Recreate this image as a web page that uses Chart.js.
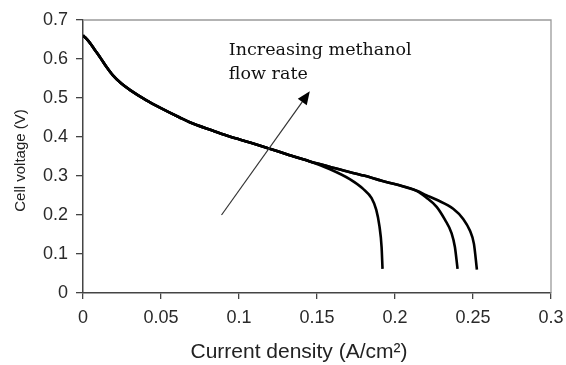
<!DOCTYPE html>
<html><head><meta charset="utf-8">
<script src="https://cdn.jsdelivr.net/npm/chart.js@4.4.1/dist/chart.umd.min.js"></script>
<style>html,body{margin:0;padding:0;background:#fff;}#wrap{width:566px;height:365px;position:relative;}</style>
</head><body><div id="wrap"><canvas id="c" width="566" height="365"></canvas></div>
<script>
// ---- Tick values / labels ----
const xTickValues = [0, 0.05, 0.1, 0.15, 0.2, 0.25, 0.3];
const xTickLabels = ['0', '0.05', '0.1', '0.15', '0.2', '0.25', '0.3'];
const yTickValues = [0, 0.1, 0.2, 0.3, 0.4, 0.5, 0.6, 0.7];
const yTickLabels = ['0', '0.1', '0.2', '0.3', '0.4', '0.5', '0.6', '0.7'];
const xTitle = 'Current density (A/cm²)';
const yTitle = 'Cell voltage (V)';
const annotationLines = ['Increasing methanol', 'flow rate'];
const arrowFrom = [0.0888, 0.200];
const arrowTo = [0.1454, 0.517];
const annotationAnchor = [0.0935, 0.609];

// ---- Polarisation curves (current density A/cm2, cell voltage V) ----
// part common to all three flow rates
const sharedCurrent = [0, 0.002, 0.0043, 0.0075, 0.0107, 0.015, 0.0192, 0.0246, 0.030, 0.0407, 0.049, 0.062, 0.0684, 0.0834, 0.094, 0.107, 0.1197, 0.132, 0.145];
const sharedVoltage = [0.660, 0.653, 0.642, 0.624, 0.606, 0.580, 0.558, 0.537, 0.521, 0.494, 0.476, 0.450, 0.438, 0.416, 0.401, 0.386, 0.370, 0.354, 0.338];
// lowest flow rate
const lowCurrent = [0.158, 0.171, 0.1796, 0.185, 0.188, 0.190, 0.1914, 0.192];
const lowVoltage = [0.318, 0.292, 0.267, 0.243, 0.213, 0.172, 0.118, 0.062];
// common to the two higher flow rates
const upperCurrent = [0.158, 0.167, 0.180, 0.192, 0.201, 0.2139];
const upperVoltage = [0.324, 0.314, 0.301, 0.287, 0.278, 0.262];
// middle flow rate
const midCurrent = [0.220, 0.2267, 0.232, 0.2363, 0.2384, 0.2401];
const midVoltage = [0.245, 0.221, 0.188, 0.153, 0.118, 0.062];
// highest flow rate
const highCurrent = [0.220, 0.2267, 0.2373, 0.2437, 0.248, 0.2506, 0.2525];
const highVoltage = [0.251, 0.239, 0.216, 0.190, 0.160, 0.126, 0.060];

function pts(xs, ys) { return xs.map((x, i) => ({x: x, y: ys[i]})); }
const seriesLow = pts(sharedCurrent.concat(lowCurrent), sharedVoltage.concat(lowVoltage));
const seriesMid = pts(sharedCurrent.concat(upperCurrent, midCurrent), sharedVoltage.concat(upperVoltage, midVoltage));
const seriesHigh = pts(sharedCurrent.concat(upperCurrent, highCurrent), sharedVoltage.concat(upperVoltage, highVoltage));

const sans = '"Liberation Sans", Arial, sans-serif';

const decor = {
  id: 'decor',
  afterDraw(chart) {
    const {ctx, chartArea: a, scales: {x, y}} = chart;
    ctx.save();
    // top / right frame
    ctx.strokeStyle = '#9a9a9a';
    ctx.lineWidth = 1.3;
    ctx.beginPath();
    ctx.moveTo(a.left, a.top); ctx.lineTo(a.right, a.top); ctx.lineTo(a.right, a.bottom);
    ctx.stroke();
    // arrow
    const x0 = x.getPixelForValue(arrowFrom[0]), y0 = y.getPixelForValue(arrowFrom[1]);
    const x1 = x.getPixelForValue(arrowTo[0]), y1 = y.getPixelForValue(arrowTo[1]);
    const ang = Math.atan2(y1 - y0, x1 - x0);
    const hl = 13, hw = 5.5;
    const bx = x1 - hl * Math.cos(ang), by = y1 - hl * Math.sin(ang);
    ctx.strokeStyle = '#333';
    ctx.lineWidth = 1.2;
    ctx.beginPath(); ctx.moveTo(x0, y0); ctx.lineTo(bx, by); ctx.stroke();
    ctx.fillStyle = '#000';
    ctx.beginPath();
    ctx.moveTo(x1, y1);
    ctx.lineTo(bx + hw * Math.sin(ang), by - hw * Math.cos(ang));
    ctx.lineTo(bx - hw * Math.sin(ang), by + hw * Math.cos(ang));
    ctx.closePath(); ctx.fill();
    // annotation text
    ctx.fillStyle = '#111';
    ctx.font = '17.5px "DejaVu Serif", serif';
    ctx.textAlign = 'left'; ctx.textBaseline = 'alphabetic';
    const tx = x.getPixelForValue(annotationAnchor[0]), ty = y.getPixelForValue(annotationAnchor[1]);
    annotationLines.forEach((t, i) => ctx.fillText(t, tx, ty + i * 23.5));
    // axis titles
    ctx.fillStyle = '#222';
    ctx.font = '21px ' + sans;
    ctx.textAlign = 'center';
    ctx.fillText(xTitle, (a.left + a.right) / 2 - 18, 358);
    ctx.save();
    ctx.translate(25, (a.top + a.bottom) / 2 + 4);
    ctx.rotate(-Math.PI / 2);
    ctx.font = '15px ' + sans;
    ctx.fillText(yTitle, 0, 0);
    ctx.restore();
    ctx.restore();
  }
};

const lineStyle = {showLine: true, pointRadius: 0, borderColor: '#000', borderWidth: 2.6, fill: false, tension: 0, cubicInterpolationMode: 'monotone'};

new Chart(document.getElementById('c'), {
  type: 'scatter',
  data: {
    datasets: [
      Object.assign({label: 'low', data: seriesLow}, lineStyle),
      Object.assign({label: 'mid', data: seriesMid}, lineStyle),
      Object.assign({label: 'high', data: seriesHigh}, lineStyle)
    ]
  },
  options: {
    responsive: false,
    devicePixelRatio: 1,
    animation: false,
    layout: {padding: {left: 0, right: 15, top: 20, bottom: 0}},
    plugins: {legend: {display: false}, tooltip: {enabled: false}},
    scales: {
      x: {
        type: 'linear', min: 0, max: 0.3,
        afterBuildTicks: s => { s.ticks = xTickValues.map(v => ({value: v})); },
        afterFit: s => { s.height = 72; s.paddingLeft = 0; s.paddingRight = 0; },
        grid: {drawOnChartArea: false, drawTicks: true, tickLength: 6, color: '#444', lineWidth: 1.3},
        border: {display: true, color: '#444', width: 1.5},
        ticks: {callback: (v, i) => xTickLabels[i], font: {family: sans, size: 18}, color: '#2a2a2a', padding: 8, maxRotation: 0, autoSkip: false}
      },
      y: {
        type: 'linear', min: 0, max: 0.7,
        afterBuildTicks: s => { s.ticks = yTickValues.map(v => ({value: v})); },
        afterFit: s => { s.width = 83; s.paddingTop = 0; s.paddingBottom = 0; },
        grid: {drawOnChartArea: false, drawTicks: true, tickLength: 7, color: '#444', lineWidth: 1.3},
        border: {display: true, color: '#444', width: 1.5},
        ticks: {callback: (v, i) => yTickLabels[i], font: {family: sans, size: 18}, color: '#2a2a2a', padding: 8, autoSkip: false}
      }
    }
  },
  plugins: [decor]
});
</script></body></html>
